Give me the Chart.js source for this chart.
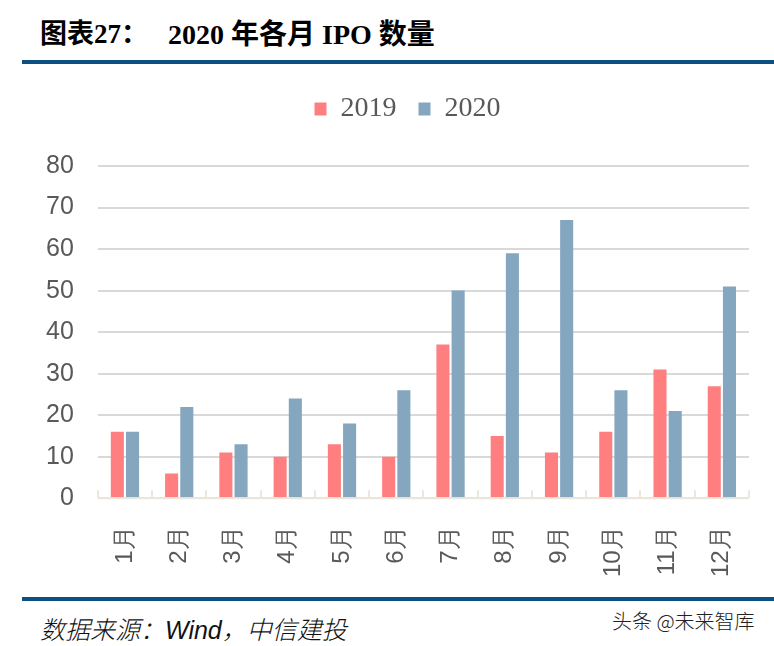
<!DOCTYPE html>
<html>
<head>
<meta charset="utf-8">
<script src="https://cdn.jsdelivr.net/npm/chart.js@4/dist/chart.umd.min.js"></script>
<style>
  body { margin: 0; width: 774px; height: 646px; background: #fff; position: relative; overflow: hidden; }
  .title { position: absolute; top: 12px; font-family: "Liberation Serif", "Noto Sans CJK SC", serif; font-weight: bold; font-size: 27px; color: #000; white-space: pre; }
  .rule { position: absolute; left: 22px; width: 752px; height: 4px; background: #0d4f80; }
  .source { position: absolute; left: 40px; top: 610px; font-family: "Liberation Sans", "Noto Sans CJK SC", sans-serif; font-style: italic; font-weight: 300; font-size: 25px; color: #111; }
  .mark { position: absolute; left: 612px; top: 606px; font-family: "Noto Sans CJK SC", sans-serif; font-weight: 300; font-size: 20px; color: #222; }
  #box { position: absolute; left: 0; top: 73px; width: 774px; height: 525px; }
</style>
</head>
<body>
<div class="title" style="left:40px">图表27：</div>
<div class="title" style="left:168px; font-size:28px">2020 年各月 IPO 数量</div>
<div class="rule" style="top:60px"></div>
<div id="box"><canvas id="grafica"></canvas></div>
<div class="rule" style="top:597px"></div>
<div class="source">数据来源：Wind，中信建投</div>
<div class="mark">头条 @未来智库</div>
<script>
// datos
const meses = ['1月', '2月', '3月', '4月', '5月', '6月', '7月', '8月', '9月', '10月', '11月', '12月'];
const ipo2019 = [16, 6, 11, 10, 13, 10, 37, 15, 11, 16, 31, 27];
const ipo2020 = [16, 22, 13, 24, 18, 26, 50, 59, 67, 26, 21, 51];
const ticksY = [0, 10, 20, 30, 40, 50, 60, 70, 80];

// marcas pequeñas del eje x (entre categorías, hacia arriba)
const marcasEje = {
  id: 'marcasEje',
  afterDatasetsDraw(chart) {
    const x = chart.scales.x, area = chart.chartArea, ctx = chart.ctx;
    ctx.save();
    ctx.strokeStyle = '#ebe7da';
    ctx.lineWidth = 2;
    ctx.beginPath();
    ctx.moveTo(area.left, area.bottom);
    ctx.lineTo(area.right, area.bottom);
    for (let i = 0; i <= meses.length; i++) {
      const px = Math.round(x.getPixelForValue(i - 0.5));
      ctx.moveTo(px, area.bottom);
      ctx.lineTo(px, area.bottom - 8);
    }
    ctx.stroke();
    ctx.restore();
  }
};

// más espacio bajo la leyenda y leyenda algo a la derecha
const ajusteLeyenda = {
  id: 'ajusteLeyenda',
  beforeUpdate(chart) {
    const ley = chart.legend;
    if (!ley || ley._ajustada) return;
    const fitOriginal = ley.fit;
    ley.fit = function () {
      fitOriginal.call(this);
      this.height += 33;
    };
    ley._ajustada = true;
  },
  afterLayout(chart) {
    chart.legend.left += 22;
    chart.legend.right += 22;
  }
};

new Chart(document.getElementById('grafica').getContext('2d'), {
  type: 'bar',
  data: {
    labels: meses,
    datasets: [
      { label: '2019', data: ipo2019, backgroundColor: '#ff7f80' },
      { label: '2020', data: ipo2020, backgroundColor: '#84a6bf' }
    ]
  },
  options: {
    responsive: true,
    maintainAspectRatio: false,
    animation: false,
    datasets: { bar: { categoryPercentage: 0.56, barPercentage: 0.86 } },
    layout: { padding: { left: 22, right: 25, top: 0, bottom: 1 } },
    plugins: {
      tooltip: { enabled: false },
      legend: {
        position: 'top',
        labels: {
          font: { family: 'Liberation Serif', size: 28 },
          color: '#595959',
          boxWidth: 12,
          boxHeight: 13,
          padding: 22
        }
      }
    },
    scales: {
      x: {
        grid: { display: false },
        border: { display: false },
        ticks: {
          font: { family: 'Liberation Sans', size: 24 },
          color: '#595959',
          maxRotation: 90,
          minRotation: 90,
          padding: 20
        }
      },
      y: {
        min: 0,
        max: 80,
        afterBuildTicks(axis) { axis.ticks = ticksY.map(v => ({ value: v })); },
        grid: { color: '#d9d9d9', lineWidth: 2, drawTicks: false },
        border: { display: false },
        ticks: {
          font: { family: 'Liberation Sans', size: 25 },
          color: '#595959',
          padding: 24
        }
      }
    }
  },
  plugins: [marcasEje, ajusteLeyenda]
});
</script>
</body>
</html>
